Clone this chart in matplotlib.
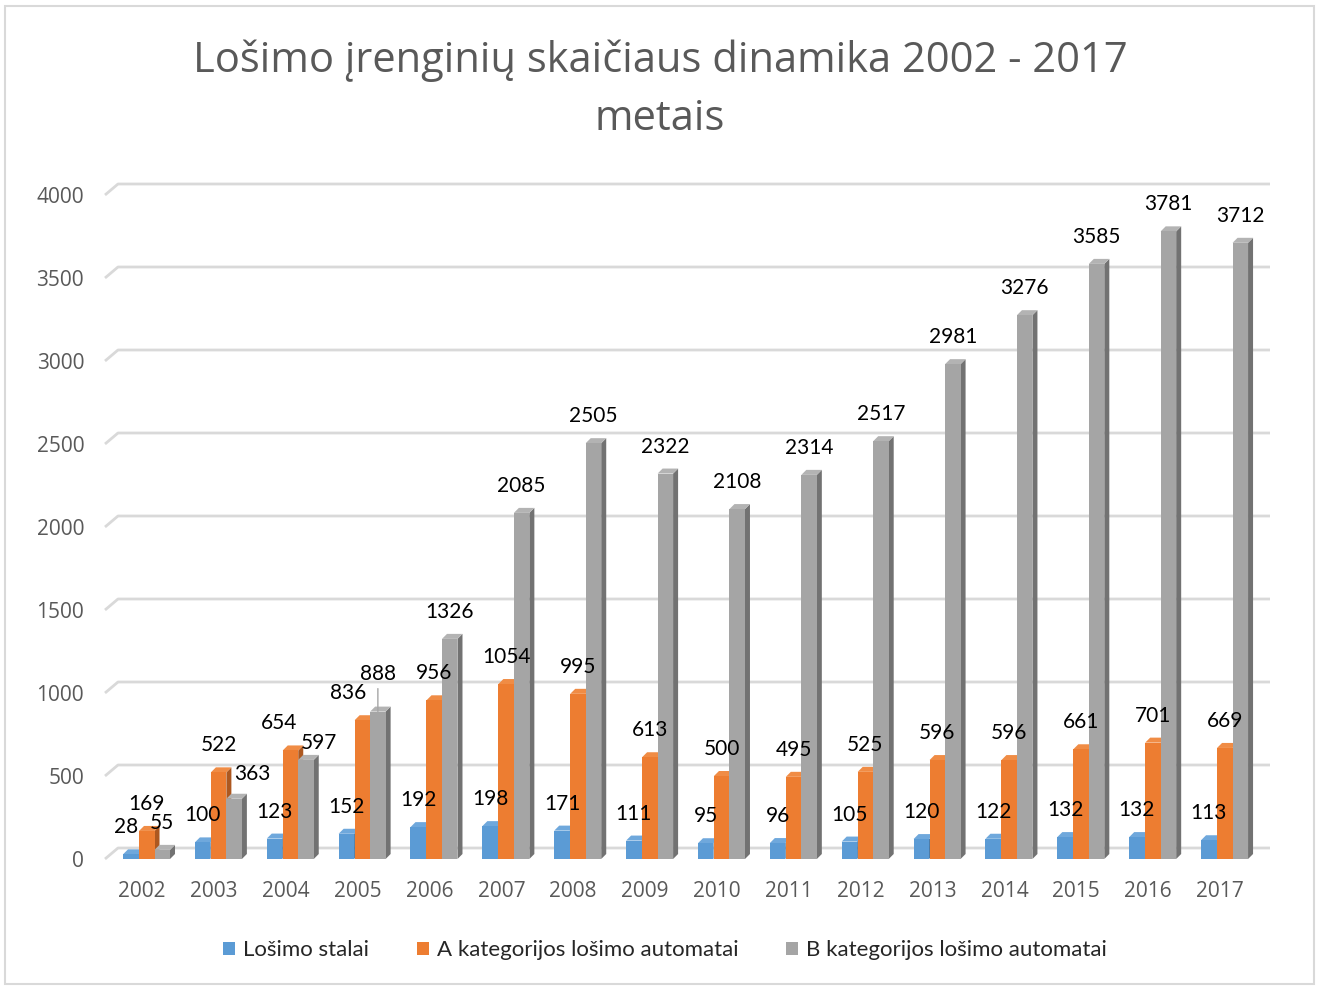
import matplotlib
matplotlib.use("Agg")
import matplotlib.pyplot as plt
from matplotlib.patches import Polygon, Rectangle
import numpy as np

years = ["2002", "2003", "2004", "2005", "2006", "2007", "2008", "2009",
         "2010", "2011", "2012", "2013", "2014", "2015", "2016", "2017"]
stalai = [28, 100, 123, 152, 192, 198, 171, 111, 95, 96, 105, 120, 122, 132, 132, 113]
a_kat = [169, 522, 654, 836, 956, 1054, 995, 613, 500, 495, 525, 596, 596, 661, 701, 669]
b_kat = [55, 363, 597, 888, 1326, 2085, 2505, 2322, 2108, 2314, 2517, 2981, 3276, 3585, 3781, 3712]
series_names = ["Lošimo stalai", "A kategorijos lošimo automatai", "B kategorijos lošimo automatai"]
yticks = [0, 500, 1000, 1500, 2000, 2500, 3000, 3500, 4000]

W, H = 1321, 986
fig = plt.figure(figsize=(W / 100, H / 100), dpi=100)

# axes placement (pixels)
ax_l, ax_r, ax_b, ax_t = 105, 1270, 859, 195
ax = fig.add_axes([ax_l / W, 1 - ax_b / H, (ax_r - ax_l) / W, (ax_b - ax_t) / H])
ax.set_ylim(0, 4000)
xmin, xmax = -0.515, 15.695
ax.set_xlim(xmin, xmax)
px_x = (ax_r - ax_l) / (xmax - xmin)   # px per x unit
px_y = (ax_b - ax_t) / 4000.0          # px per y unit

for s in ax.spines.values():
    s.set_visible(False)
ax.tick_params(length=0)
ax.set_yticks(yticks)
ax.set_yticklabels([str(t) for t in yticks], fontfamily="Open Sans", fontsize=15, color="#595959")
ax.tick_params(axis="y", pad=15)
x = np.arange(len(years))
ax.set_xticks(x)
ax.set_xticklabels(years, fontfamily="Open Sans", fontsize=15, color="#595959")
ax.tick_params(axis="x", pad=16)

# back-wall gridlines with perspective stub
gx = 13 / (ax_r - ax_l)
gy = 11 / px_y
for t in yticks:
    ax.plot([0, gx, 1], [t, t + gy, t + gy], transform=ax.get_yaxis_transform(),
            color="#D9D9D9", lw=2, zorder=0.5, clip_on=False, solid_capstyle="butt")

front = ["#5B9BD5", "#ED7D31", "#A5A5A5"]
side = ["#41729F", "#AD5820", "#727272"]
top = ["#6FA8DC", "#F08C45", "#B3B3B3"]
offsets = [-11.25 / px_x, 4.75 / px_x, 20.25 / px_x]
bw = 15.5 / px_x
ddx = 5 / px_x
ddy = 5 / px_y

data = [stalai, a_kat, b_kat]
# label nudges in pixels (dx, dy) for crowded labels
nudges = {(0, 0): (-5, 0), (1, 2): (-11, 0), (1, 3): (-14, 0),
          (2, 1): (18, -2), (2, 2): (13, -10), (2, 3): (0, 11)}

for i in range(len(years)):
    for k in range(3):
        v = data[k][i]
        xc = x[i] + offsets[k]
        z = 3 + i * 0.01 + k * 0.003
        x0, x1 = xc - bw / 2, xc + bw / 2
        ax.add_patch(Polygon([(x1, 0), (x1 + ddx, ddy), (x1 + ddx, v + ddy), (x1, v)],
                             closed=True, facecolor=side[k], edgecolor="none", zorder=z))
        ax.add_patch(Polygon([(x0, v), (x1, v), (x1 + ddx, v + ddy), (x0 + ddx, v + ddy)],
                             closed=True, facecolor=top[k], edgecolor="none", zorder=z))
        ax.add_patch(Rectangle((x0, 0), bw, v, facecolor=front[k], edgecolor="none", zorder=z + 0.001))
        ndx, ndy = nudges.get((k, i), (0, 0))
        ax.annotate(str(v), (xc, v), xytext=(ndx * 0.72, (27 + ndy) * 0.72),
                    textcoords="offset points", ha="center", va="center",
                    fontfamily="Lato", fontsize=15, color="#000000", zorder=10,
                    annotation_clip=False)

# leader line for 888 label
v888 = b_kat[3]
ax.annotate("", (x[3] + offsets[2], v888), xytext=(x[3] + offsets[2], v888 + 18 / px_y + 30),
            arrowprops=dict(arrowstyle="-", color="#A6A6A6", lw=1, shrinkA=0, shrinkB=0),
            zorder=9)

# title
fig.text(660 / W, 1 - 90 / H, "Lošimo įrenginių skaičiaus dinamika 2002 - 2017\nmetais",
         ha="center", va="center", fontfamily="Open Sans", fontsize=30, color="#595959",
         linespacing=1.5)

# legend
handles = [Rectangle((0, 0), 1, 1, facecolor=c, edgecolor="none") for c in front]
fig.legend(handles, series_names, loc="center", bbox_to_anchor=(665 / W, 1 - 950 / H),
           ncol=3, frameon=False, prop={"family": "Lato", "size": 16},
           handlelength=0.54, handleheight=0.54, handletextpad=0.36, columnspacing=2.15,
           labelcolor="#262626")

# chart border
fig.patches.append(Rectangle((5 / W, 1 - 984 / H), 1309 / W, 978 / H, transform=fig.transFigure,
                             facecolor="none", edgecolor="#D9D9D9", lw=1.5))

fig.savefig("out.png", dpi=100)
